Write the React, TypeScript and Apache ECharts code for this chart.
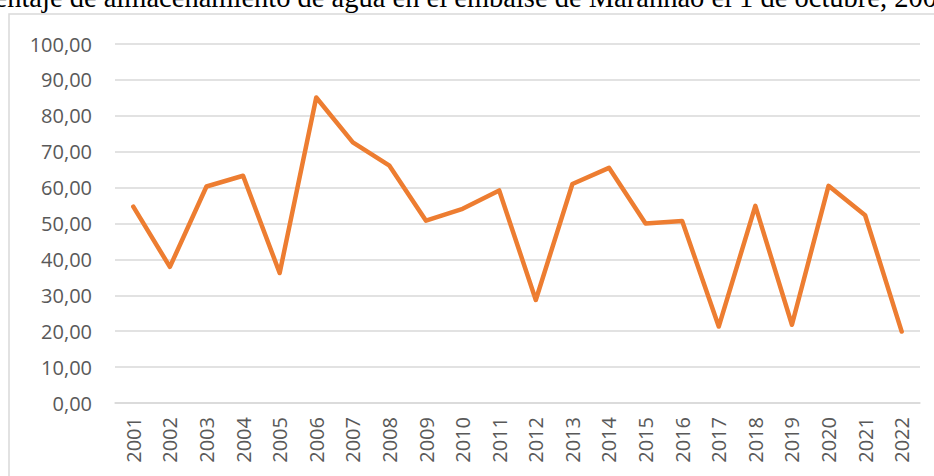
import React, { useEffect, useRef } from "react";
import * as echarts from "echarts";

const TITLE = "Porcentaje de almacenamiento de agua en el embalse de Maranhão el 1 de octubre, 2001-2022";
const years = [
  "2001", "2002", "2003", "2004", "2005", "2006", "2007", "2008", "2009", "2010", "2011",
  "2012", "2013", "2014", "2015", "2016", "2017", "2018", "2019", "2020", "2021", "2022",
];
const storage = [
  54.7, 37.9, 60.3, 63.3, 36.2, 85.1, 72.6, 66.1, 50.8, 54.1, 59.2,
  28.7, 61.0, 65.5, 50.0, 50.7, 21.3, 54.9, 21.8, 60.5, 52.3, 19.9,
];

export default function App() {
  const ref = useRef<HTMLDivElement>(null);
  useEffect(() => {
    if (!ref.current) return;
    const chart = echarts.init(ref.current, undefined, { renderer: "svg" });
    chart.setOption({
      animation: false,
      backgroundColor: "#ffffff",
      grid: { left: 115, right: 14, top: 44, bottom: 73, containLabel: false },
      graphic: [
        {
          type: "rect",
          shape: { x: 9, y: 14, width: 1000, height: 520 },
          style: { fill: "none", stroke: "#d9d9d9", lineWidth: 1.5 },
          silent: true,
        },
        {
          type: "text",
          x: 480,
          y: -3,
          style: {
            text: TITLE,
            fontFamily: "'Liberation Serif', 'DejaVu Serif', serif",
            fontSize: 28.5,
            fill: "#000000",
            align: "center",
            verticalAlign: "middle",
          },
          silent: true,
        },
      ],
      xAxis: {
        type: "category",
        data: years,
        boundaryGap: true,
        axisLine: { show: true, lineStyle: { color: "#d9d9d9", width: 1.5 } },
        axisTick: { show: false },
        axisLabel: {
          rotate: 90,
          margin: 14,
          fontSize: 20,
          color: "#595959",
          fontFamily: "'Open Sans', sans-serif",
          interval: 0,
        },
      },
      yAxis: {
        type: "value",
        min: 0,
        max: 100,
        interval: 10,
        axisLine: { show: false },
        axisTick: { show: false },
        splitLine: { lineStyle: { color: "#d9d9d9", width: 1.5 } },
        axisLabel: {
          margin: 23,
          fontSize: 20,
          color: "#595959",
          fontFamily: "'Open Sans', sans-serif",
          formatter: (v: number) => v.toFixed(2).replace(".", ","),
        },
      },
      series: [
        {
          type: "line",
          data: storage,
          showSymbol: false,
          symbol: "none",
          lineStyle: { color: "#ED7D31", width: 4.5, cap: "round", join: "round" },
          itemStyle: { color: "#ED7D31" },
        },
      ],
    });
    return () => chart.dispose();
  }, []);
  return (
    <div
      ref={ref}
      style={{ position: "absolute", left: 0, top: 0, width: 934, height: 476 }}
    />
  );
}
